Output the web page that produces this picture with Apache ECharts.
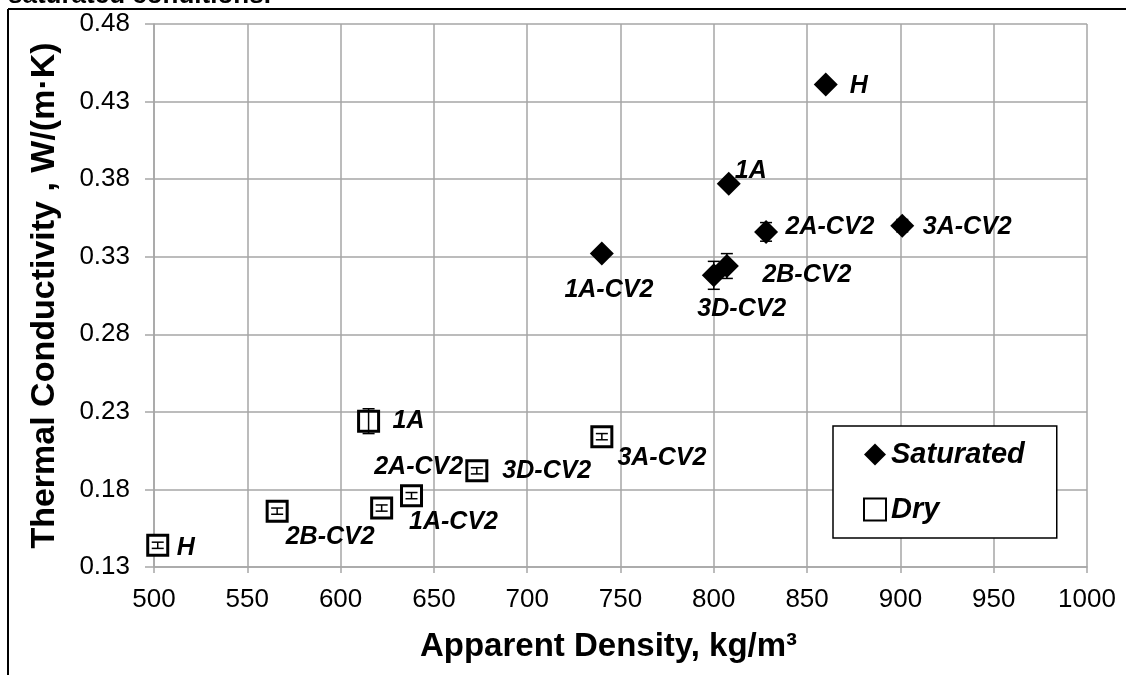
<!DOCTYPE html>
<html><head><meta charset="utf-8">
<script src="https://cdn.jsdelivr.net/npm/echarts@6/dist/echarts.min.js"></script>
<style>html,body{margin:0;padding:0;background:#fff}#c{width:1126px;height:675px}</style>
</head><body><div id="c"></div>
<script>
// ---- data ----
const satNames = ['H', '1A', '2A-CV2', '3A-CV2', '1A-CV2', '2B-CV2', '3D-CV2'];
const satDensity = [860, 808, 828, 901, 740, 807, 800];
const satConductivity = [0.441, 0.377, 0.346, 0.350, 0.332, 0.324, 0.318];
const satError = [0.002, 0.002, 0.006, 0.004, 0.003, 0.008, 0.009];

const dryNames = ['H', '2B-CV2', '2A-CV2', '1A-CV2', '3D-CV2', '3A-CV2', '1A'];
const dryDensity = [502, 566, 622, 638, 673, 740, 615];
const dryConductivity = [0.144, 0.166, 0.168, 0.176, 0.192, 0.214, 0.224];
const dryError = [0.002, 0.002, 0.002, 0.002, 0.002, 0.002, 0.008];

const xTicks = [500, 550, 600, 650, 700, 750, 800, 850, 900, 950, 1000];
const yTicks = [0.13, 0.18, 0.23, 0.28, 0.33, 0.38, 0.43, 0.48];

// ---- label placement (pixel offsets from marker centre) ----
const satLabelOffsets = [[33, 2], [22, -13], [64, -5], [65, 1], [7, 36], [80, 9], [28, 34]];
const dryLabelOffsets = [[28, 3], [53, 26], [37, -41], [42, 26], [70, 0], [60, 21], [40, 0]];

const FONT = 'Liberation Sans, Arial, sans-serif';
const labelStyle = {
  show: true, position: 'inside', align: 'center', verticalAlign: 'middle',
  color: '#000', fontFamily: FONT, fontSize: 25, fontWeight: 'bold', fontStyle: 'italic'
};

function points(xs, ys, names, offs) {
  return xs.map((x, i) => ({
    value: [x, ys[i]], name: names[i],
    label: Object.assign({}, labelStyle, { formatter: names[i], offset: offs[i] })
  }));
}

function errorBars(xs, ys, es, z) {
  return {
    type: 'custom', silent: true, z: z,
    encode: { x: 0, y: [1, 2] },
    data: xs.map((x, i) => [x, ys[i] - es[i], ys[i] + es[i]]),
    renderItem: function (params, api) {
      const lo = api.coord([api.value(0), api.value(1)]);
      const hi = api.coord([api.value(0), api.value(2)]);
      const c = 6;
      const st = { stroke: '#000', lineWidth: 1.5 };
      return {
        type: 'group', children: [
          { type: 'line', shape: { x1: lo[0], y1: lo[1], x2: hi[0], y2: hi[1] }, style: st },
          { type: 'line', shape: { x1: lo[0] - c, y1: lo[1], x2: lo[0] + c, y2: lo[1] }, style: st },
          { type: 'line', shape: { x1: hi[0] - c, y1: hi[1], x2: hi[0] + c, y2: hi[1] }, style: st }
        ]
      };
    }
  };
}

const chart = echarts.init(document.getElementById('c'), null, { renderer: 'canvas' });
const gridColor = '#a6a6a6';
chart.setOption({
  animation: false,
  backgroundColor: '#fff',
  textStyle: { fontFamily: FONT },
  grid: { left: 154, right: 39, top: 24, bottom: 108 },
  xAxis: {
    type: 'value', min: xTicks[0], max: xTicks[xTicks.length - 1], interval: 50,
    name: 'Apparent Density, kg/m³', nameLocation: 'middle', nameGap: 63,
    nameTextStyle: { fontFamily: FONT, fontSize: 33, fontWeight: 'bold', color: '#000', padding: [0, 24, 0, 0] },
    axisLine: { lineStyle: { color: gridColor, width: 1.5 } },
    axisTick: { show: true, length: 6, lineStyle: { color: gridColor, width: 1.5 } },
    axisLabel: { fontFamily: FONT, fontSize: 26, color: '#000', margin: 20, formatter: v => String(v) },
    splitLine: { show: true, lineStyle: { color: gridColor, width: 1.5 } }
  },
  yAxis: {
    type: 'value', min: yTicks[0], max: yTicks[yTicks.length - 1],
    name: 'Thermal Conductivity , W/(m·K)', nameLocation: 'middle', nameGap: 92,
    nameTextStyle: { fontFamily: FONT, fontSize: 34, fontWeight: 'bold', color: '#000' },
    axisLine: { show: true, lineStyle: { color: gridColor, width: 1.5 } },
    axisTick: { show: true, length: 9, customValues: yTicks, lineStyle: { color: gridColor, width: 1.5 } },
    axisLabel: { customValues: yTicks, fontFamily: FONT, fontSize: 26, color: '#000', margin: 24,
      formatter: v => v.toFixed(2) },
    splitLine: { show: true, lineStyle: { color: gridColor, width: 1.5 } }
  },
  legend: {
    left: 833, top: 426, orient: 'vertical',
    data: ['Saturated', 'Dry'],
    itemWidth: 22, itemHeight: 22, itemGap: 26,
    padding: [14, 32, 14, 30],
    borderColor: '#000', borderWidth: 1.5, backgroundColor: '#fff',
    textStyle: { fontFamily: FONT, fontSize: 29, lineHeight: 28, fontWeight: 'bold', fontStyle: 'italic', color: '#000' }
  },
  graphic: [
    { type: 'text', left: 8, top: -17, z: 1, style: { text: 'saturated conditions.', font: 'bold 26px ' + FONT, fill: '#000' } },
    { type: 'line', z: 2, shape: { x1: 8, y1: 9, x2: 1126, y2: 9 }, style: { stroke: '#000', lineWidth: 2 } },
    { type: 'line', z: 2, shape: { x1: 8, y1: 9, x2: 8, y2: 675 }, style: { stroke: '#000', lineWidth: 2 } }
  ],
  series: [
    {
      name: 'Saturated', type: 'scatter', symbol: 'diamond', symbolSize: 24, z: 3,
      itemStyle: { color: '#000', opacity: 1 },
      data: points(satDensity, satConductivity, satNames, satLabelOffsets)
    },
    errorBars(satDensity, satConductivity, satError, 4),
    {
      name: 'Dry', type: 'scatter', symbol: 'rect', symbolSize: 20, z: 3,
      itemStyle: { color: '#fff', borderColor: '#000', borderWidth: 3, opacity: 1 },
      data: points(dryDensity, dryConductivity, dryNames, dryLabelOffsets)
    },
    errorBars(dryDensity, dryConductivity, dryError, 4)
  ]
});
</script>
</body></html>
